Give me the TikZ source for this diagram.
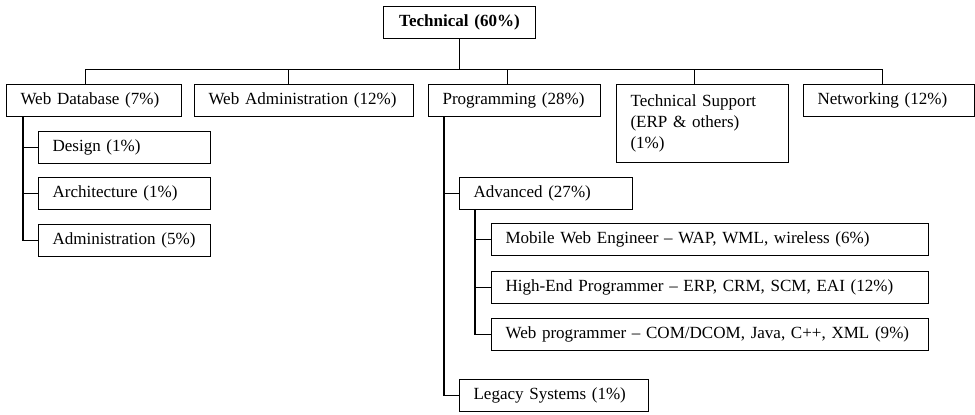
\documentclass[tikz,border=0pt]{standalone}
\usepackage{fontspec}
\setmainfont{Liberation Serif}
\begin{document}
\begin{tikzpicture}[x=0.02cm,y=-0.02cm,line width=0.6pt,
    box/.style={draw,anchor=north west,align=left,inner xsep=0.28cm,inner ysep=2pt,
      minimum height=0.63cm,font=\fontsize{9.7}{12}\selectfont}]
  \useasboundingbox (0,0) rectangle (975,414);
  \node[box,align=center,text width=2.48cm,font=\fontsize{9.7}{12}\selectfont\bfseries] (tech) at (383,6) {Technical (60\%)};
  \node[box,text width=2.94cm] (wdb) at (6,84) {Web Database (7\%)};
  \node[box,text width=3.82cm] (wadm) at (194,84) {Web Administration (12\%)};
  \node[box,text width=2.88cm] (prog) at (428,84) {Programming (28\%)};
  \node[box,text width=2.88cm,minimum height=1.56cm] (tsup) at (616,84) {Technical Support\\(ERP \& others)\\(1\%)};
  \node[box,text width=2.86cm] (net) at (803,84) {Networking (12\%)};
  \node[box,text width=2.88cm] (design) at (38,131) {Design (1\%)};
  \node[box,text width=2.88cm] (arch) at (38,177) {Architecture (1\%)};
  \node[box,text width=2.88cm] (admin) at (38,224) {Administration (5\%)};
  \node[box,text width=2.90cm] (adv) at (459,177) {Advanced (27\%)};
  \node[box,text width=8.18cm] (mobile) at (491,223) {Mobile Web Engineer -- WAP, WML, wireless (6\%)};
  \node[box,text width=8.18cm] (highend) at (491,271) {High-End Programmer -- ERP, CRM, SCM, EAI (12\%)};
  \node[box,text width=8.18cm] (webprog) at (491,318) {Web programmer -- COM/DCOM, Java, C++, XML (9\%)};
  \node[box,text width=3.22cm] (legacy) at (459,379) {Legacy Systems (1\%)};
  \draw (tech.south) -- ++(0,31) coordinate (bus);
  \coordinate (wdbtop) at ([xshift=-0.17cm]wdb.north);
  \coordinate (wadmtop) at ([xshift=-0.31cm]wadm.north);
  \coordinate (progtop) at ([xshift=-0.14cm]prog.north);
  \coordinate (tsuptop) at ([xshift=-0.16cm]tsup.north);
  \coordinate (nettop) at ([xshift=-0.13cm]net.north);
  \draw (wdbtop) |- (bus) -| (nettop);
  \foreach \n in {wadmtop,progtop,tsuptop} \draw (\n) -- (\n |- bus);
  \coordinate (wdbtrunk) at ([xshift=0.34cm]wdb.south west);
  \draw (wdbtrunk) |- (admin.west);
  \foreach \n in {design,arch} \draw (\n.west) -- (\n.west -| wdbtrunk);
  \coordinate (progtrunk) at ([xshift=0.32cm]prog.south west);
  \draw (progtrunk) |- (legacy.west);
  \draw (adv.west) -- (adv.west -| progtrunk);
  \coordinate (advtrunk) at ([xshift=0.32cm]adv.south west);
  \draw (advtrunk) |- (webprog.west);
  \foreach \n in {mobile,highend} \draw (\n.west) -- (\n.west -| advtrunk);
\end{tikzpicture}
\end{document}
